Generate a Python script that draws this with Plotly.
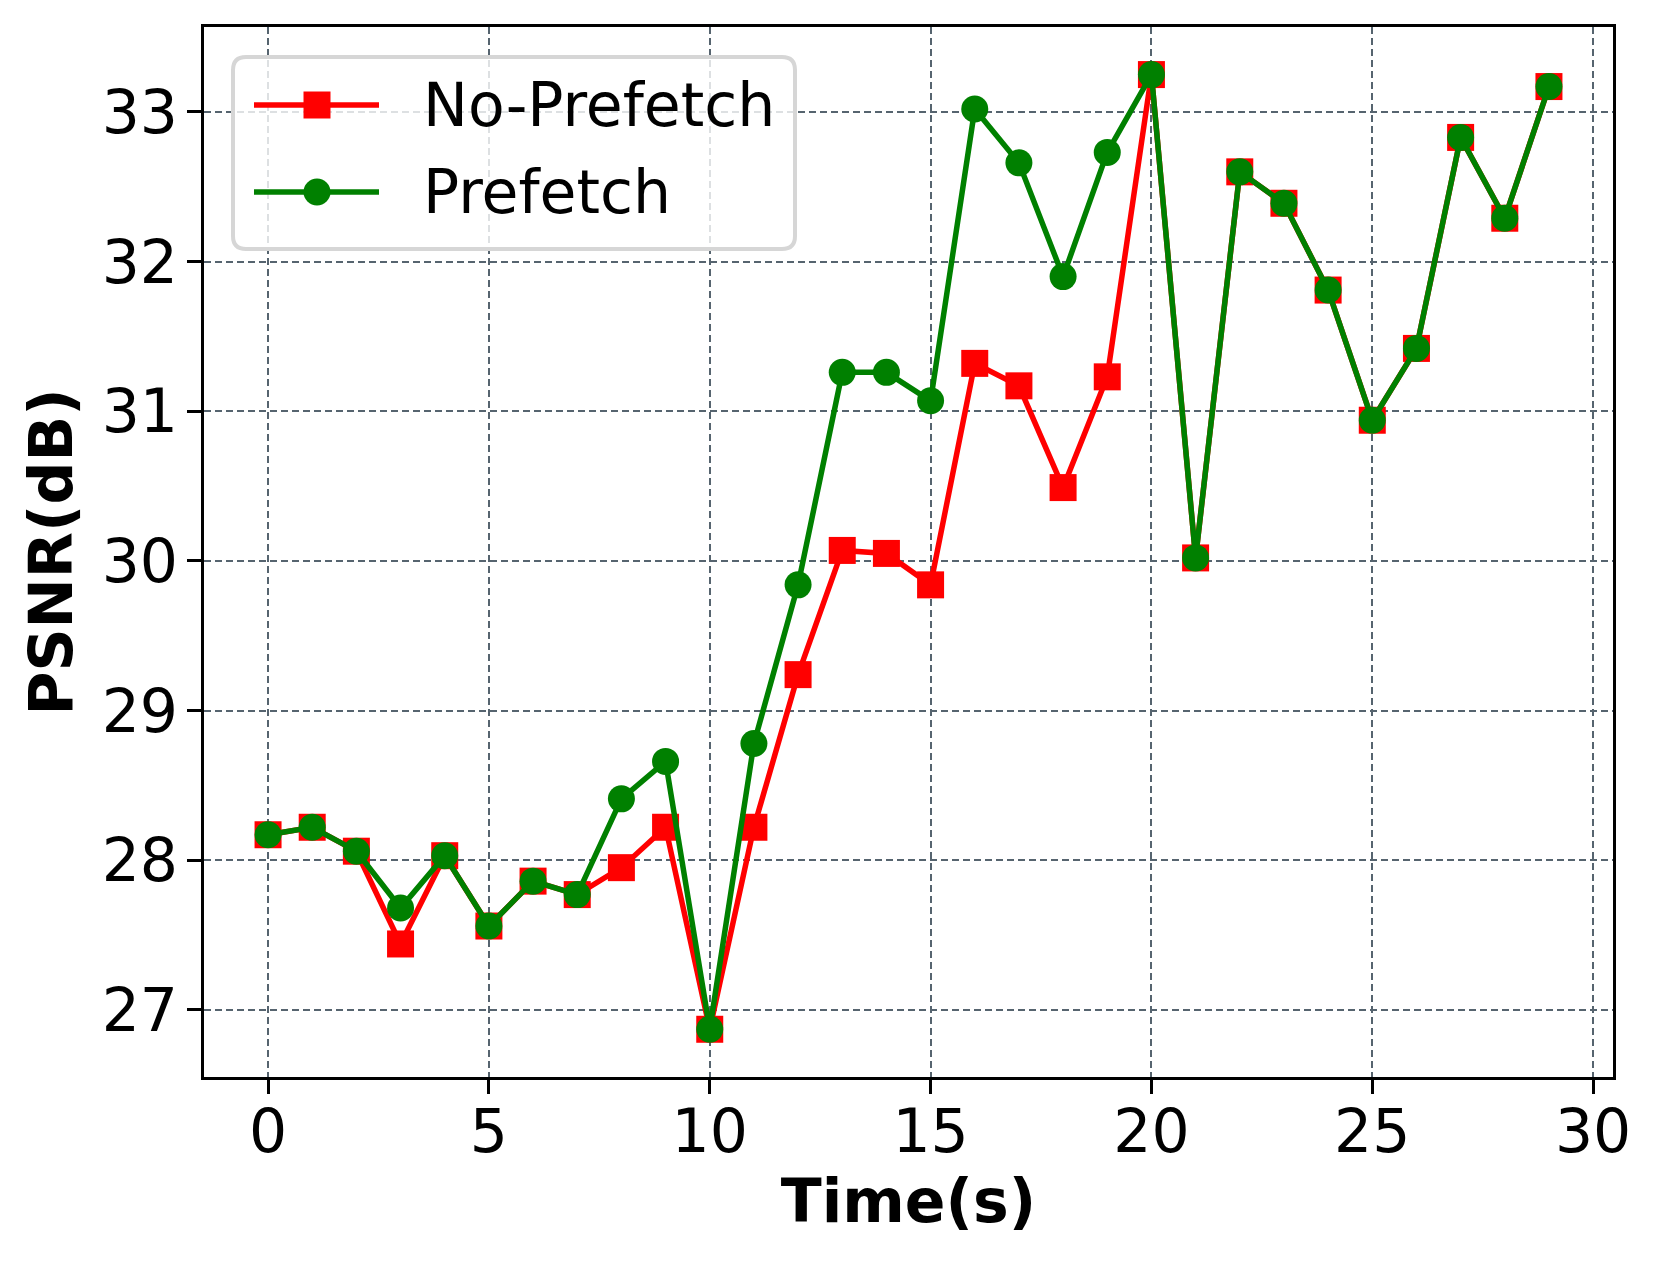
import plotly.graph_objects as go

# ---------------- data ----------------
time_s = list(range(30))
no_prefetch = [28.17, 28.22, 28.06, 27.44, 28.03, 27.56, 27.86, 27.77, 27.95, 28.22,
               26.87, 28.22, 29.24, 30.07, 30.05, 29.84, 31.32, 31.17, 30.49, 31.23,
               33.25, 30.02, 32.60, 32.39, 31.81, 30.94, 31.42, 32.83, 32.29, 33.17]
prefetch = [28.17, 28.22, 28.06, 27.68, 28.03, 27.56, 27.86, 27.77, 28.41, 28.66,
            26.87, 28.78, 29.84, 31.26, 31.26, 31.07, 33.02, 32.66, 31.90, 32.73,
            33.25, 30.02, 32.60, 32.39, 31.81, 30.94, 31.42, 32.83, 32.29, 33.17]
series_names = ["No-Prefetch", "Prefetch"]
x_ticks = [0, 5, 10, 15, 20, 25, 30]
y_ticks = [27, 28, 29, 30, 31, 32, 33]

# ---------------- layout constants ----------------
W, H = 1659, 1264
PL, PR, PT, PB = 204, 1613, 27, 1077   # plot area in pixels
FONT = "DejaVu Sans"
RED = "#ff0000"
GREEN = "#008000"
GRID = "#56646f"
MS = 27


def px(x):
    return (x - PL) / (PR - PL)


def py(y):
    return (PB - y) / (PB - PT)


fig = go.Figure()
fig.add_trace(go.Scatter(
    x=time_s, y=no_prefetch, name=series_names[0], mode="lines+markers",
    line=dict(color=RED, width=5.5),
    marker=dict(symbol="square", size=MS, color=RED, line=dict(width=0)),
    showlegend=False,
))
fig.add_trace(go.Scatter(
    x=time_s, y=prefetch, name=series_names[1], mode="lines+markers",
    line=dict(color=GREEN, width=5.5),
    marker=dict(symbol="circle", size=MS, color=GREEN, line=dict(width=0)),
    showlegend=False,
))

# ---------------- legend (drawn like matplotlib's) ----------------
bx0, bx1, by0, by1, rad = 233, 795, 57, 249, 13
rx = rad / (PR - PL)
ry = rad / (PB - PT)
X0, X1, Y0, Y1 = px(bx0), px(bx1), py(by1), py(by0)
path = (f"M{X0 + rx},{Y1} L{X1 - rx},{Y1} Q{X1},{Y1} {X1},{Y1 - ry} "
        f"L{X1},{Y0 + ry} Q{X1},{Y0} {X1 - rx},{Y0} "
        f"L{X0 + rx},{Y0} Q{X0},{Y0} {X0},{Y0 + ry} "
        f"L{X0},{Y1 - ry} Q{X0},{Y1} {X0 + rx},{Y1} Z")
shapes = [dict(type="path", path=path, xref="paper", yref="paper",
               fillcolor="rgba(255,255,255,0.8)",
               line=dict(color="#d6d6d6", width=4), layer="above")]

legend_rows = [(105, RED, "square", series_names[0]),
               (192, GREEN, "circle", series_names[1])]
annotations = []
hx = MS / 2 / (PR - PL)
hy = MS / 2 / (PB - PT)
for yy, col, sym, label in legend_rows:
    shapes.append(dict(type="line", xref="paper", yref="paper",
                       x0=px(254), x1=px(379), y0=py(yy), y1=py(yy),
                       line=dict(color=col, width=5.5), layer="above"))
    shapes.append(dict(type="rect" if sym == "square" else "circle",
                       xref="paper", yref="paper",
                       x0=px(317) - hx, x1=px(317) + hx,
                       y0=py(yy) - hy, y1=py(yy) + hy,
                       fillcolor=col, line=dict(width=0), layer="above"))
    annotations.append(dict(text=label, xref="paper", yref="paper",
                            x=px(421), y=py(yy), xanchor="left", yanchor="middle",
                            showarrow=False,
                            font=dict(family=FONT, size=60, color="black")))

axis_common = dict(
    showline=True, linewidth=3, linecolor="black", mirror=True,
    ticks="outside", ticklen=14, tickwidth=3, tickcolor="black",
    showgrid=True, gridcolor=GRID, gridwidth=2, griddash="7px,4px",
    zeroline=False,
    tickfont=dict(family=FONT, size=60, color="black"),
)

fig.update_layout(
    width=W, height=H,
    margin=dict(l=PL, r=W - PR, t=PT, b=H - PB, pad=0),
    paper_bgcolor="white", plot_bgcolor="white",
    font=dict(family=FONT, color="black"),
    xaxis=dict(range=[-1.45, 30.45], tickvals=x_ticks, ticklabelstandoff=-14,
               title=dict(text="Time(s)", standoff=10,
                          font=dict(family=FONT, size=60, weight="bold", color="black")),
               **axis_common),
    yaxis=dict(range=[26.551, 33.568], tickvals=y_ticks, ticklabelstandoff=-3,
               title=dict(text="PSNR(dB)", standoff=10,
                          font=dict(family=FONT, size=60, weight="bold", color="black")),
               **axis_common),
    shapes=shapes,
    annotations=annotations,
    showlegend=False,
)

fig.write_html("out.html", config={"displayModeBar": False},
               post_script="document.body.style.margin='0';")
